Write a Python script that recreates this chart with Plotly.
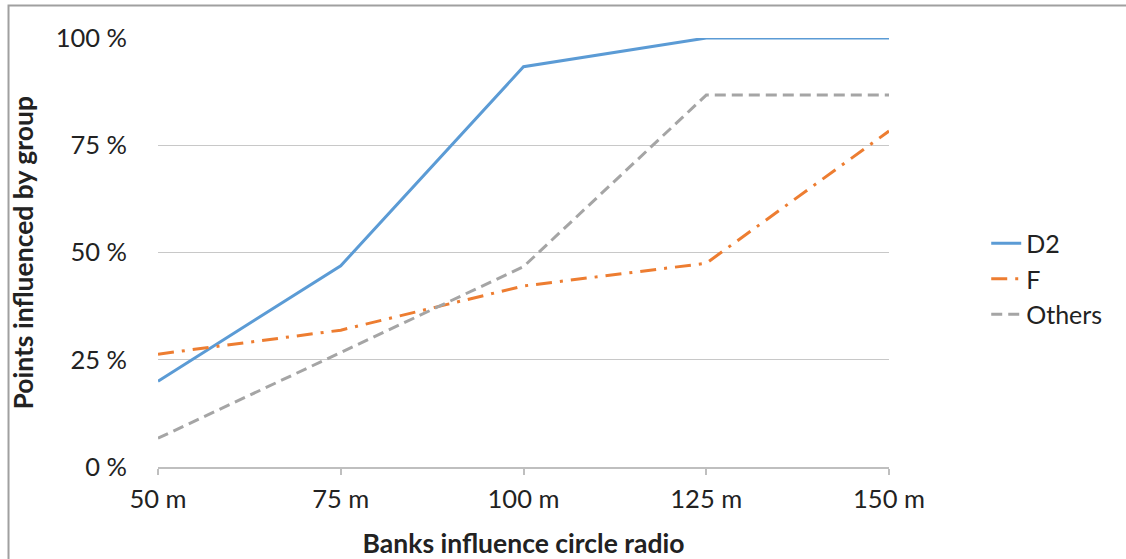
import plotly.graph_objects as go

radius = ['50 m', '75 m', '100 m', '125 m', '150 m']
d2 = [20.0, 46.9, 93.3, 100.0, 100.0]
f_group = [26.3, 31.9, 42.2, 47.5, 78.3]
others = [6.7, 26.7, 46.7, 86.7, 86.7]
y_ticks = [0, 25, 50, 75, 100]
y_labels = ['0 %', '25 %', '50 %', '75 %', '100 %']

font = 'Lato, Open Sans, sans-serif'

fig = go.Figure()
fig.add_trace(go.Scatter(x=radius, y=d2, name='D2', mode='lines',
                         line=dict(color='#5b9bd5', width=3)))
fig.add_trace(go.Scatter(x=radius, y=f_group, name='F', mode='lines',
                         line=dict(color='#ed7d31', width=3, dash='16px,8px,3px,8px')))
fig.add_trace(go.Scatter(x=radius, y=others, name='Others', mode='lines',
                         line=dict(color='#a5a5a5', width=3, dash='11px,6px')))

fig.update_layout(
    width=1126, height=559,
    margin=dict(l=158, r=237, t=38, b=92),
    plot_bgcolor='white', paper_bgcolor='white',
    font=dict(family=font, size=25.5, color='#222222'),
    showlegend=True,
    legend=dict(x=1.133, y=0.438, xanchor='left', yanchor='middle',
                font=dict(size=25), itemwidth=30, tracegroupgap=0),
)
fig.update_xaxes(
    type='category', range=[0, 4], automargin=False,
    showline=True, linecolor='#bfbfbf', linewidth=2,
    ticks='outside', ticklen=6, tickcolor='#bfbfbf', tickwidth=1.5,
    showgrid=False, zeroline=False, ticklabelstandoff=2,
    title=dict(text='<b>Banks influence circle radio</b>', font=dict(size=26.5), standoff=27),
)
fig.update_yaxes(
    range=[0, 100], tickvals=y_ticks, ticktext=y_labels, automargin=False,
    showgrid=True, gridcolor='#c8c8c8', gridwidth=1.2,
    zeroline=False, showline=False, ticks='', ticklabelstandoff=30,
)

# y axis title placed as annotation so it can sit close to the frame
fig.add_annotation(text='<b>Points influenced by group</b>', textangle=-90,
                   xref='paper', yref='paper', x=-0.1847, y=0.5,
                   xanchor='center', yanchor='middle', showarrow=False,
                   font=dict(size=26.5))

# outer frame (only top and left edges are in view)
fig.add_shape(type='rect', xref='paper', yref='paper',
              x0=-0.2045, x1=1.5, y0=1.0758, y1=-0.5,
              line=dict(color='#a0a0a0', width=2), fillcolor='rgba(0,0,0,0)', layer='below')

fig.write_html('out.html', config={'displayModeBar': False},
               post_script="document.body.style.margin='0';")
